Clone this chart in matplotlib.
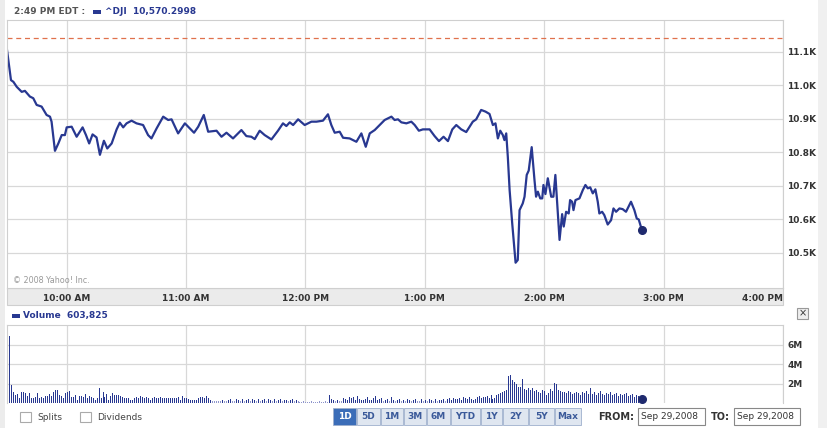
import matplotlib
matplotlib.use("Agg")
import matplotlib.pyplot as plt
from matplotlib.patches import Rectangle

# ---- data (minutes after the 9:30 open) ----
price_minutes = [
    0, 2.0, 3.2, 4.9, 7.4, 9.0, 11.5, 13.2, 14.9, 17.4,
    19.9, 21.6, 22.4, 24.1, 25.8, 27.5, 29.1, 30.0, 32.5, 35.0,
    38.0, 39.7, 41.3, 43.0, 45.0, 46.7, 48.7, 50.4, 52.6, 55.1,
    56.7, 58.4, 60.1, 62.6, 65.1, 68.4, 70.9, 72.6, 75.2, 78.5,
    81.0, 82.7, 86.0, 89.4, 91.9, 94.0, 96.1,
    98.9, 101.1, 105.3, 107.8, 110.3, 113.6, 117.8, 120.3, 122.8, 124.5,
    127.0, 129.5, 132.9, 136.2, 138.7, 140.4, 142.1, 143.8, 146.3, 149.6,
    153.0, 155.5, 158.8, 161.3, 163.0, 164.7, 167.2, 168.9, 172.2, 175.6,
    178.1, 180.3, 182.3, 184.8, 187.3, 189.8,
    193.2, 194.8, 196.5, 198.2, 200.7, 203.2, 204.9, 207.0, 209.0, 212.4,
    214.9, 217.1, 219.4, 221.6, 223.8, 225.8, 228.3, 230.8, 232.5, 234.1,
    235.8, 238.3, 240.5, 242.5, 244.2, 245.5, 246.7, 247.9, 249.2, 250.0,
    250.9, 251.7, 252.6, 253.9, 255.6, 256.7, 257.6, 259.2,
    260.1, 261.2, 262.2, 263.7, 265.1, 265.9, 266.8, 268.0, 269.0, 269.6,
    270.6, 271.8, 273.5, 274.6, 275.6, 277.7, 279.0, 279.8, 281.0, 282.3,
    283.0, 284.0, 284.7, 285.7, 287.7, 289.4, 290.7, 291.9, 293.1, 294.4,
    295.7, 296.9, 297.7, 299.1, 300.2, 301.9, 303.6, 304.8, 306.1, 307.8,
    309.4, 311.1, 313.6, 315.3, 316.5, 317.5, 319.0,
]
price = [
    11106, 11016, 11011, 10996, 10981, 10984, 10967, 10962, 10942, 10937,
    10912, 10907, 10892, 10805, 10827, 10852, 10852, 10875, 10877, 10847,
    10875, 10852, 10827, 10854, 10845, 10793, 10835, 10812, 10827, 10869,
    10889, 10875, 10887, 10895, 10887, 10882, 10852, 10842, 10872, 10907,
    10897, 10899, 10857, 10887, 10872, 10859, 10877,
    10912, 10862, 10865, 10847, 10859, 10842, 10867, 10849, 10847, 10840,
    10865, 10852, 10839, 10865, 10887, 10879, 10890, 10882, 10899, 10882,
    10892, 10892, 10895, 10914, 10882, 10859, 10862, 10844, 10842, 10832,
    10857, 10817, 10857, 10867, 10882, 10897,
    10907, 10897, 10899, 10890, 10887, 10892, 10882, 10865, 10869, 10869,
    10849, 10834, 10847, 10834, 10869, 10882, 10869, 10861, 10877, 10892,
    10899, 10927, 10922, 10915, 10882, 10887, 10842, 10865, 10852, 10837,
    10857, 10787, 10688, 10589, 10471, 10479, 10628, 10648,
    10668, 10733, 10746, 10816, 10718, 10668, 10683, 10663, 10663, 10703,
    10676, 10723, 10668, 10668, 10733, 10539, 10616, 10579, 10623, 10618,
    10658, 10653, 10628, 10658, 10663, 10688, 10703, 10693, 10696, 10678,
    10690, 10653, 10618, 10623, 10613, 10585, 10598, 10633, 10623, 10633,
    10631, 10623, 10653, 10628, 10603, 10600, 10570,
]
prev_close = 11143.13

# one bar per minute, in units of 100k shares
volume_100k = [
    14, 69, 19, 11, 8, 9, 5, 11, 11, 10,
    7, 10, 5, 5, 6, 10, 5, 6, 5, 7,
    7, 9, 7, 11, 13, 13, 8, 7, 5, 10,
    11, 12, 6, 6, 8, 3, 7, 7, 6, 9,
    5, 7, 6, 5, 3, 5, 15, 5, 11, 6,
    9, 3, 7, 10, 8, 8, 8, 7, 6, 5,
    5, 5, 3, 3, 5, 6, 5, 7, 6, 5,
    6, 5, 3, 5, 6, 5, 5, 6, 5, 5,
    5, 5, 5, 5, 5, 5, 6, 3, 7, 5,
    5, 4, 3, 3, 3, 3, 5, 6, 6, 5,
    7, 5, 3, 2, 2, 2, 2, 2, 3, 2,
    2, 3, 4, 2, 2, 4, 3, 2, 4, 2,
    3, 4, 2, 4, 3, 2, 4, 2, 3, 4,
    2, 4, 3, 2, 4, 2, 3, 4, 2, 3,
    3, 2, 3, 4, 2, 3, 2, 1, 1, 2,
    1, 1, 1, 2, 1, 1, 1, 2, 1, 1,
    2, 1, 8, 4, 3, 2, 3, 2, 2, 5,
    4, 3, 6, 5, 6, 3, 7, 4, 3, 3,
    4, 6, 3, 3, 5, 7, 3, 4, 5, 2,
    3, 4, 2, 6, 3, 2, 3, 4, 2, 3,
    2, 4, 3, 2, 3, 4, 2, 2, 4, 2,
    3, 2, 4, 3, 2, 4, 2, 3, 3, 4,
    2, 4, 5, 3, 5, 4, 4, 5, 3, 6,
    5, 4, 6, 4, 3, 4, 6, 7, 5, 6,
    6, 7, 5, 8, 4, 5, 8, 9, 10, 11,
    12, 13, 28, 29, 24, 22, 20, 17, 16, 25,
    14, 13, 15, 13, 15, 12, 13, 11, 10, 13,
    12, 8, 10, 14, 12, 21, 20, 13, 12, 11,
    11, 10, 12, 11, 9, 10, 11, 10, 8, 11,
    10, 12, 9, 15, 9, 11, 8, 10, 12, 9,
    8, 10, 9, 11, 8, 9, 10, 7, 9, 8,
    9, 10, 7, 8, 9, 6, 8, 7, 5, 4,
]
volume = [v * 1e5 for v in volume_100k]
vol_minutes = list(range(len(volume)))

hour_ticks = [30, 90, 150, 210, 270, 330, 390]
hour_labels = ["10:00 AM", "11:00 AM", "12:00 PM", "1:00 PM", "2:00 PM", "3:00 PM", "4:00 PM"]
price_ticks = [10500, 10600, 10700, 10800, 10900, 11000, 11100]
price_labels = ["10.5K", "10.6K", "10.7K", "10.8K", "10.9K", "11.0K", "11.1K"]
vol_ticks = [2e6, 4e6, 6e6]
vol_labels = ["2M", "4M", "6M"]
range_buttons = ["1D", "5D", "1M", "3M", "6M", "YTD", "1Y", "2Y", "5Y", "Max"]

NAVY = "#283891"
GRID = "#d8d8d8"
W, H = 827, 428

fig = plt.figure(figsize=(W / 100, H / 100), dpi=100)
fig.patch.set_facecolor("white")


def px_axes(x0, y0, x1, y1):
    return fig.add_axes([x0 / W, 1 - y1 / H, (x1 - x0) / W, (y1 - y0) / H])


# page chrome in pixel coordinates
ui = fig.add_axes([0, 0, 1, 1])
ui.set_xlim(0, W)
ui.set_ylim(H, 0)
ui.axis("off")
ui.add_patch(Rectangle((0, 0), 5, H, color="#ececec", lw=0))
ui.add_patch(Rectangle((818, 0), 9, H, color="#f0f0f0", lw=0))
ui.add_patch(Rectangle((7, 288), 776, 17, facecolor="#ebebeb", edgecolor="#cfcfcf", lw=0.8))

ui.text(14, 11, "2:49 PM EDT :", fontsize=6.5, fontweight="bold", color="#555555", va="center")
ui.add_patch(Rectangle((93, 9.5), 8, 4, color=NAVY, lw=0))
ui.text(105, 11, "^DJI  10,570.2998", fontsize=6.5, fontweight="bold", color=NAVY, va="center")
ui.add_patch(Rectangle((12, 313.5), 8, 4, color=NAVY, lw=0))
ui.text(23, 315.5, "Volume  603,825", fontsize=6.5, fontweight="bold", color=NAVY, va="center")

# close box
ui.add_patch(Rectangle((797, 308), 11, 11, facecolor="#eeeeee", edgecolor="#999999", lw=0.8))
ui.text(802.5, 313.5, "\u00d7", fontsize=7, color="#333333", ha="center", va="center")

# bottom controls
for bx, label in [(20, "Splits"), (80, "Dividends")]:
    ui.add_patch(Rectangle((bx, 412), 11, 10, facecolor="white", edgecolor="#aaaaaa", lw=0.8))
    ui.text(bx + 17, 417, label, fontsize=6.5, color="#444444", va="center")

btn_edges = [333, 357, 381, 404, 427, 451, 481, 503, 529, 555, 582]
for i, label in enumerate(range_buttons):
    x0, x1 = btn_edges[i], btn_edges[i + 1] - 1
    sel = label == "1D"
    ui.add_patch(Rectangle((x0, 408), x1 - x0, 17,
                           facecolor="#3b6db8" if sel else "#dfe6f0",
                           edgecolor="#9fb0cc", lw=0.6))
    ui.text((x0 + x1) / 2, 416.5, label, fontsize=6.5, fontweight="bold",
            color="white" if sel else "#3b5a9a", ha="center", va="center")

ui.text(598, 416.5, "FROM:", fontsize=7, fontweight="bold", color="#333333", va="center")
ui.add_patch(Rectangle((638, 408), 67, 17, facecolor="white", edgecolor="#888888", lw=0.8))
ui.text(641, 416.5, "Sep 29,2008", fontsize=6.5, color="#333333", va="center")
ui.text(711, 416.5, "TO:", fontsize=7, fontweight="bold", color="#333333", va="center")
ui.add_patch(Rectangle((734, 408), 66, 17, facecolor="white", edgecolor="#888888", lw=0.8))
ui.text(737, 416.5, "Sep 29,2008", fontsize=6.5, color="#333333", va="center")

# ---- price panel ----
ax = px_axes(7, 20, 783, 288)
ax.set_xlim(0, 390)
ax.set_ylim(10395.5, 11195.5)
ax.set_xticks(hour_ticks)
ax.set_xticklabels(hour_labels, fontsize=6.5, fontweight="bold", color="#333333")
ax.get_xticklabels()[-1].set_horizontalalignment("right")
ax.set_yticks(price_ticks)
ax.set_yticklabels(price_labels, fontsize=6.5, fontweight="bold", color="#333333")
ax.yaxis.tick_right()
ax.tick_params(axis="both", length=0)
ax.tick_params(axis="x", pad=4.5)
ax.tick_params(axis="y", pad=3)
ax.grid(True, color=GRID, lw=0.9)
for s in ax.spines.values():
    s.set_color("#cfcfcf")
    s.set_linewidth(0.8)
ax.axhline(prev_close, color="#e0714c", lw=0.9, dashes=(4, 3))
ax.plot(price_minutes, price, color=NAVY, lw=1.6, solid_joinstyle="round")
ax.plot(price_minutes[-1], price[-1], "o", color="#1f2a6e", ms=5.5)
ax.text(3, 10410, "\u00a9 2008 Yahoo! Inc.", fontsize=5.8, color="#999999")

# ---- volume panel ----
vx = px_axes(7, 325, 783, 403)
vx.set_xlim(0, 390)
vx.set_ylim(0, 8.05e6)
vx.set_xticks(hour_ticks)
vx.set_xticklabels([])
vx.set_yticks(vol_ticks)
vx.set_yticklabels(vol_labels, fontsize=6.5, fontweight="bold", color="#333333")
vx.yaxis.tick_right()
vx.tick_params(axis="both", length=0)
vx.tick_params(axis="y", pad=3)
vx.grid(True, color=GRID, lw=0.9)
vx.set_axisbelow(True)
for s in vx.spines.values():
    s.set_color("#cfcfcf")
    s.set_linewidth(0.8)
vx.spines["bottom"].set_visible(False)
bar_colors = [NAVY if v > 2e5 else "#8f96cc" for v in volume]
vx.vlines(vol_minutes, 0, volume, colors=bar_colors, lw=0.45, antialiased=False)
vx.plot(vol_minutes[-1], volume[-1], "o", color="#1f2a6e", ms=5.5, clip_on=False)

fig.savefig("out.png", dpi=100)
